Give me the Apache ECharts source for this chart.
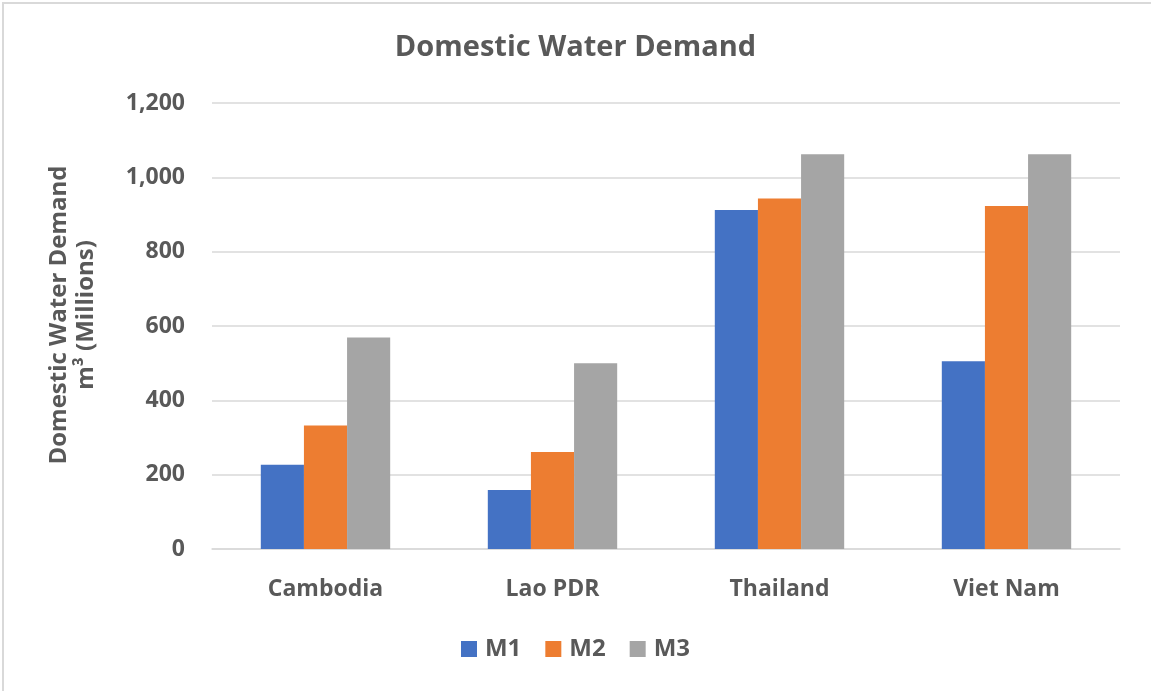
<!DOCTYPE html>
<html>
<head>
<meta charset="utf-8">
<script src="https://cdn.jsdelivr.net/npm/echarts@6/dist/echarts.min.js"></script>
<style>
  html, body { margin: 0; padding: 0; background: #fff; }
  #chart { width: 1151px; height: 691px; }
</style>
</head>
<body>
<div id="chart"></div>
<script>
// Domestic water demand by country and scenario (million m³)
const countries = ['Cambodia', 'Lao PDR', 'Thailand', 'Viet Nam'];
const seriesNames = ['M1', 'M2', 'M3'];
const m1 = [227, 159, 912, 505];
const m2 = [332, 261, 943, 923];
const m3 = [569, 500, 1062, 1062];
const colors = ['#4472C4', '#ED7D31', '#A5A5A5'];
const yTicks = { min: 0, max: 1200, interval: 200 };
const yTitleLines = ['Domestic Water Demand', 'm³ (Millions)'];

const textColor = '#595959';
const fontFamily = '"Open Sans", "Noto Sans", sans-serif';
const values = [m1, m2, m3];

const chart = echarts.init(document.getElementById('chart'), null, { renderer: 'canvas' });

chart.setOption({
  animation: false,
  backgroundColor: '#ffffff',
  color: colors,
  title: {
    text: 'Domestic Water Demand',
    left: 'center',
    top: 28,
    textStyle: { color: textColor, fontFamily, fontWeight: 'bold', fontSize: 29 }
  },
  legend: {
    data: seriesNames,
    bottom: 25,
    left: 'center',
    itemWidth: 16,
    itemHeight: 16,
    itemGap: 24,
    icon: 'rect',
    textStyle: { color: textColor, fontFamily, fontWeight: 'bold', fontSize: 24, padding: [0, 0, 0, 3] }
  },
  grid: { left: 212, right: 31, top: 103, bottom: 142 },
  xAxis: {
    type: 'category',
    data: countries,
    axisLine: { show: true, lineStyle: { color: '#d9d9d9', width: 1.5 } },
    axisTick: { show: false },
    axisLabel: { color: textColor, fontFamily, fontWeight: 'bold', fontSize: 23, margin: 29 }
  },
  yAxis: {
    type: 'value',
    min: yTicks.min,
    max: yTicks.max,
    interval: yTicks.interval,
    name: yTitleLines.map(s => '{t|' + s + '}').join('\n'),
    nameLocation: 'middle',
    nameGap: 112,
    nameTextStyle: {
      padding: [0, 0, 0, 22],
      rich: { t: { color: textColor, fontFamily, fontWeight: 'bold', fontSize: 24, lineHeight: 27 } }
    },
    axisLine: { show: false },
    axisTick: { show: false },
    splitLine: { lineStyle: { color: '#d9d9d9', width: 1.5 } },
    axisLabel: {
      color: textColor, fontFamily, fontWeight: 'bold', fontSize: 23, margin: 27,
      formatter: v => v.toLocaleString('en-US')
    }
  },
  series: seriesNames.map((name, i) => ({
    name,
    type: 'bar',
    data: values[i],
    barGap: '0%',
    barCategoryGap: '43%',
    itemStyle: { color: colors[i] }
  })),
  graphic: [{
    type: 'rect',
    shape: { x: 3, y: 3, width: 1160, height: 700 },
    style: { fill: 'none', stroke: '#d9d9d9', lineWidth: 2 },
    silent: true
  }]
});
</script>
</body>
</html>
